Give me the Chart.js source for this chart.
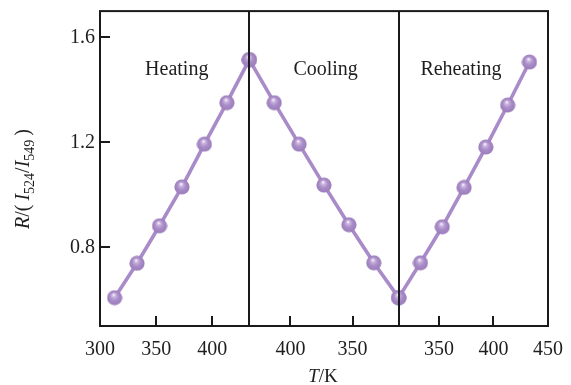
<!DOCTYPE html>
<html><head><meta charset="utf-8">
<script src="https://cdn.jsdelivr.net/npm/chart.js@4"></script>
<style>html,body{margin:0;padding:0;background:#fff;}canvas{display:block;}</style>
</head><body>
<canvas id="c" width="571" height="385"></canvas>
<script>
// ---- data ----
const heatingT = [313, 333, 353, 373, 393, 413, 433];
const heatingR = [0.608, 0.739, 0.882, 1.030, 1.193, 1.351, 1.515];
const coolingT = [433, 413, 393, 373, 353, 333, 313];
const coolingR = [1.515, 1.351, 1.193, 1.037, 0.886, 0.741, 0.608];
const reheatingT = [313, 333, 353, 373, 393, 413, 433];
const reheatingR = [0.608, 0.741, 0.878, 1.028, 1.182, 1.342, 1.506];
const heatingTicks = [300, 350, 400];
const coolingTicks = [400, 350];
const reheatingTicks = [350, 400, 450];
const yTicks = [0.8, 1.2, 1.6];
const panelLabels = ['Heating', 'Cooling', 'Reheating'];

// ---- panel axis ranges (each panel occupies one unit of the composite x scale) ----
const panelRanges = [[300, 433], [433, 313], [313, 450]];
function toU(p, T) { const [a, b] = panelRanges[p]; return p + (T - a) / (b - a); }
function pts(p, Ts, Rs) { return Ts.map((t, i) => ({ x: toU(p, t), y: Rs[i] })); }

const xTickItems = [];
[heatingTicks, coolingTicks, reheatingTicks].forEach((arr, p) =>
  arr.forEach(t => xTickItems.push({ value: toU(p, t), label: String(t) })));

const FONT = '"Liberation Serif", "Times New Roman", serif';
const PURPLE = '#a98bc9';

// sphere point image
function sphere() {
  const c = document.createElement('canvas');
  c.width = 16; c.height = 16;
  const g = c.getContext('2d');
  const gr = g.createRadialGradient(7, 5, 0.3, 8, 8, 7.6);
  gr.addColorStop(0, '#fbf7fd');
  gr.addColorStop(0.22, '#c9b3de');
  gr.addColorStop(0.55, '#aa8cc8');
  gr.addColorStop(1, '#9a7cba');
  g.fillStyle = gr;
  g.beginPath(); g.arc(8, 8, 7.6, 0, Math.PI * 2); g.fill();
  return c;
}
const ball = sphere();

function ds(data) {
  return {
    data, borderColor: PURPLE, borderWidth: 3.6, pointStyle: ball,
    pointRadius: 7.5, pointHoverRadius: 7.5, tension: 0, fill: false
  };
}

const deco = {
  id: 'deco',
  afterDatasetsDraw(chart) {
    const { ctx, chartArea: a, scales: { x, y } } = chart;
    ctx.save();
    ctx.strokeStyle = '#1a1a1a';
    ctx.lineWidth = 2;
    // panel dividers
    [1, 2].forEach(u => {
      const px = Math.round(x.getPixelForValue(u));
      ctx.beginPath(); ctx.moveTo(px, a.top); ctx.lineTo(px, a.bottom); ctx.stroke();
    });
    // frame
    ctx.strokeRect(a.left, a.top, a.right - a.left, a.bottom - a.top);
    // inward ticks
    xTickItems.forEach(t => {
      const px = Math.round(x.getPixelForValue(t.value));
      ctx.beginPath(); ctx.moveTo(px, a.bottom); ctx.lineTo(px, a.bottom - 10); ctx.stroke();
    });
    yTicks.forEach(v => {
      const py = Math.round(y.getPixelForValue(v));
      ctx.beginPath(); ctx.moveTo(a.left, py); ctx.lineTo(a.left + 10, py); ctx.stroke();
    });
    // panel labels
    ctx.fillStyle = '#1e1e1e';
    ctx.font = '20px ' + FONT;
    ctx.textAlign = 'center';
    ctx.textBaseline = 'middle';
    const lu = [0.514, 1.511, 2.417];
    panelLabels.forEach((s, i) => ctx.fillText(s, x.getPixelForValue(lu[i]), y.getPixelForValue(1.478)));
    // x title
    ctx.textBaseline = 'alphabetic';
    ctx.textAlign = 'left';
    const xs = [['T', 'italic 19px '], ['/K', '19px ']];
    let w = 0; xs.forEach(s => { ctx.font = s[1] + FONT; w += ctx.measureText(s[0]).width; });
    let cx = (a.left + a.right) / 2 - w / 2 - 1;
    xs.forEach(s => { ctx.font = s[1] + FONT; ctx.fillText(s[0], cx, 382); cx += ctx.measureText(s[0]).width; });
    // y title
    const ys = [['R', 'italic 20px ', 0], ['/(\u2009', '20px ', 0], ['I', 'italic 20px ', 0], ['524', '14px ', 5],
                ['/', '20px ', 0], ['I', 'italic 20px ', 0], ['549', '14px ', 5], ['\u2009)', '20px ', 0]];
    w = 0; ys.forEach(s => { ctx.font = s[1] + FONT; w += ctx.measureText(s[0]).width; });
    ctx.translate(29, 179);
    ctx.rotate(-Math.PI / 2);
    let lx = -w / 2;
    ys.forEach(s => { ctx.font = s[1] + FONT; ctx.fillText(s[0], lx, s[2]); lx += ctx.measureText(s[0]).width; });
    ctx.restore();
  }
};

new Chart(document.getElementById('c'), {
  type: 'line',
  data: { datasets: [ds(pts(0, heatingT, heatingR)), ds(pts(1, coolingT, coolingR)), ds(pts(2, reheatingT, reheatingR))] },
  options: {
    responsive: false, animation: false, devicePixelRatio: 1,
    layout: { padding: { left: 0, right: 23, top: 11, bottom: 0 } },
    plugins: { legend: { display: false }, tooltip: { enabled: false } },
    scales: {
      x: {
        type: 'linear', min: 0, max: 3,
        grid: { display: false, drawTicks: false }, border: { display: false },
        afterBuildTicks: s => { s.ticks = xTickItems.map(t => ({ value: t.value })); },
        afterFit: s => { s.height = 59; s.paddingLeft = 0; s.paddingRight = 0; },
        ticks: {
          autoSkip: false, maxRotation: 0, padding: 12, color: '#1e1e1e',
          font: { family: FONT, size: 20 },
          callback: v => { const it = xTickItems.find(t => Math.abs(t.value - v) < 1e-9); return it ? it.label : ''; }
        }
      },
      y: {
        min: 0.5, max: 1.7,
        grid: { display: false, drawTicks: false }, border: { display: false },
        afterBuildTicks: s => { s.ticks = yTicks.map(v => ({ value: v })); },
        afterFit: s => { s.width = 100; s.paddingTop = 0; s.paddingBottom = 0; },
        ticks: { padding: 5, color: '#1e1e1e', font: { family: FONT, size: 20 }, callback: v => v.toFixed(1) }
      }
    }
  },
  plugins: [deco]
});
</script>
</body></html>
